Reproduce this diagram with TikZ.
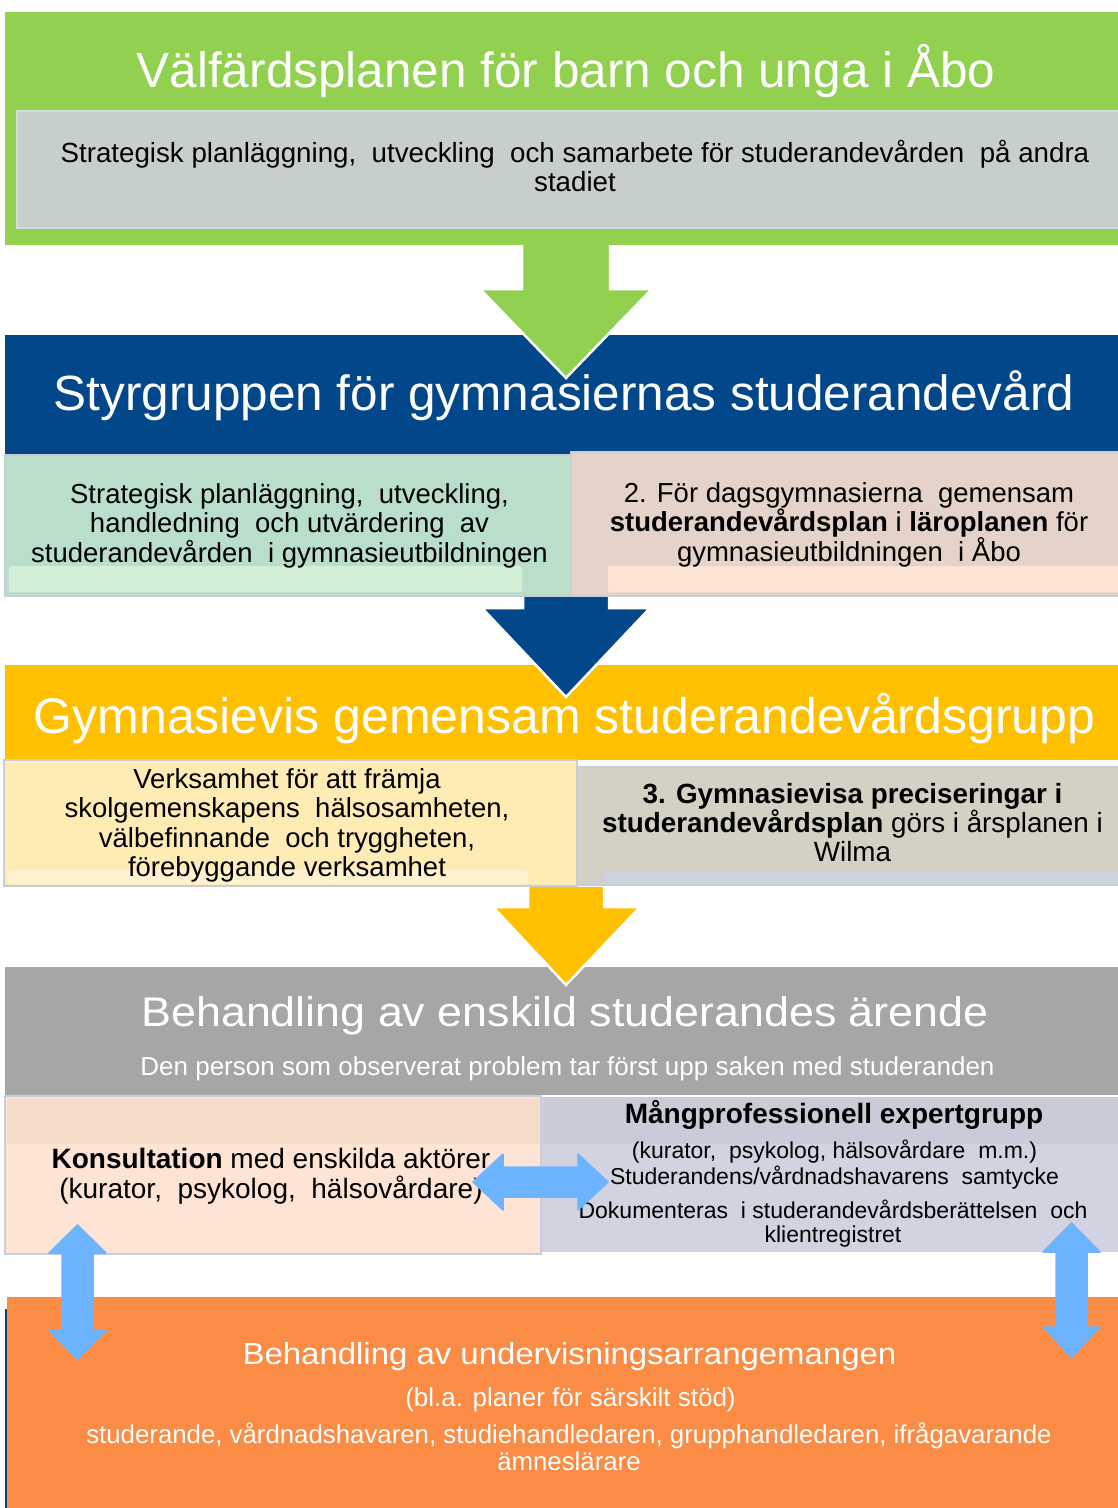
\documentclass[tikz,border=0pt]{standalone}
\usepackage{fontspec}
\setmainfont{Liberation Sans}
\definecolor{cgreen}{HTML}{92D050}
\definecolor{cinner}{HTML}{C6CFCB}
\definecolor{cinnerb}{HTML}{D3DAD7}
\definecolor{cblue}{HTML}{02478A}
\definecolor{cmint}{HTML}{B9DEC9}
\definecolor{cmintl}{HTML}{D4EFD7}
\definecolor{cbord}{HTML}{C9CDDA}
\definecolor{cpink}{HTML}{E5D2C8}
\definecolor{cpinkl}{HTML}{FDE3D3}
\definecolor{cyellow}{HTML}{FFC000}
\definecolor{cyl}{HTML}{FFECB4}
\definecolor{cylstrip}{HTML}{FFF3CF}
\definecolor{cbeige}{HTML}{D3D0C4}
\definecolor{cstriptwo}{HTML}{CED1DF}
\definecolor{cgray}{HTML}{A6A6A6}
\definecolor{cpeach}{HTML}{FDE4D4}
\definecolor{cpeachd}{HTML}{F5DBCA}
\definecolor{cslate}{HTML}{D1D3E0}
\definecolor{cslated}{HTML}{C9CBD8}
\definecolor{corange}{HTML}{FB8C46}
\definecolor{clblue}{HTML}{6CB4FF}
\newcommand\fz[2]{\fontsize{#1}{#2}\selectfont}
\newcommand\mlines[2]{\vtop{\baselineskip=#1\lineskiplimit=-100pt\lineskip=0pt\halign{\hfil##\hfil\cr#2\crcr}}}
\newcommand\dsp{\ \ }
\begin{document}
\begin{tikzpicture}[x=1pt,y=-1pt,
  txt/.style={inner sep=0pt, anchor=base, text=black},
  wtxt/.style={txt, text=white},
  subbox/.style={draw=cbord, line width=2.5pt},
  blockarrow/.style={draw=white, line width=2.5pt, line join=miter},
  dblarrow/.style={fill=clblue, draw=clblue, line width=1.5pt, line join=round}]
\useasboundingbox (0,0) rectangle (1118,1508);

% ---- level 1 (green)
\fill[cgreen] (5,12) rectangle (1118,245);
\filldraw[fill=cinner, draw=cinnerb, line width=1.5pt] (17,111) rectangle (1122,228);

% ---- level 2 (blue)
\fill[cblue] (5,335) rectangle (1118,455);
\filldraw[subbox, fill=cmint] (5,455) rectangle (571,596);
\fill[cmintl, rounded corners=2pt] (9,566) rectangle (522,592);
\filldraw[subbox, fill=cpink] (571,452) rectangle (1122,596);
\fill[cpinkl, rounded corners=2pt] (608,566) rectangle (1122,592);

% green arrow
\filldraw[blockarrow, fill=cgreen] (522,245) -- (522,289) -- (480,289) -- (566,378) -- (652,289) -- (610,289) -- (610,245);

% ---- level 3 (yellow)
\fill[cyellow] (5,665) rectangle (1118,760);
\filldraw[subbox, fill=cyl] (4,760) rectangle (577,886);
\fill[cylstrip, rounded corners=2pt] (8,870) rectangle (528,884);
\filldraw[subbox, fill=cbeige] (577,767) rectangle (1122,885);
\fill[cstriptwo, rounded corners=2pt] (604,871) rectangle (1122,884);

% blue arrow
\filldraw[blockarrow, fill=cblue] (523,597) -- (523,608) -- (482,608) -- (566,697) -- (650,608) -- (609,608) -- (609,597);

% ---- level 4 (gray)
\fill[cgray] (5,967) rectangle (1118,1095);
\filldraw[subbox, fill=cpeach] (5,1096) rectangle (541,1254);
\fill[cpeachd] (7,1098) rectangle (539,1144);
\fill[cslate] (542,1097) rectangle (1118,1252);
\fill[cslated] (543,1097) rectangle (1118,1144);

% yellow arrow
\filldraw[blockarrow, fill=cyellow] (528,887) -- (528,907) -- (493,907) -- (566,985) -- (640,907) -- (604,907) -- (604,887);

% ---- level 5 (orange)
\fill[corange] (7,1297) rectangle (1118,1508);
\draw[cblue, line width=2pt] (5.5,1309) -- (5.5,1508);

% ---- texts
\node[wtxt, font=\fz{49.5}{55}] (t1) at (566,87) {Välfärdsplanen för barn och unga i Åbo};
\node[txt, font=\fz{27.7}{29}] (t1a) at (575,162.7) {\mlines{29pt}{Strategisk planläggning,\dsp utveckling\dsp och samarbete för studerandevården\dsp på andra\cr stadiet}};

\node[wtxt, font=\fz{49.5}{55}] (t2) at (564,410) {Styrgruppen för gymnasiernas studerandevård};
\node[txt, font=\fz{27.5}{29.5}] (t2a) at (289.5,503) {\mlines{29.5pt}{Strategisk planläggning,\dsp utveckling,\cr handledning\dsp och utvärdering\dsp av\cr studerandevården\dsp i gymnasieutbildningen}};
\node[txt, font=\fz{27.5}{29.5}] (t2b) at (849,502) {\mlines{29.5pt}{2. För dagsgymnasierna\dsp gemensam\cr \textbf{studerandevårdsplan} i \textbf{läroplanen} för\cr gymnasieutbildningen\dsp i Åbo}};

\node[wtxt, font=\fz{50}{55}] (t3) at (564.5,733) {Gymnasievis gemensam studerandevårdsgrupp};
\node[txt, font=\fz{27.5}{29.5}] (t3a) at (287,788) {\mlines{29.6pt}{Verksamhet för att främja\cr skolgemenskapens\dsp hälsosamheten,\cr välbefinnande\dsp och tryggheten,\cr förebyggande verksamhet}};
\node[txt, font=\fz{27.8}{29}] (t3b) at (852.5,803) {\mlines{29pt}{\textbf{3. Gymnasievisa preciseringar i}\cr \textbf{studerandevårdsplan} görs i årsplanen i\cr Wilma}};

\node[wtxt, font=\fz{41.5}{46}] (t4) at (565,1026) {\scalebox{1.08}[1]{Behandling av enskild studerandes ärende}};
\node[wtxt, font=\fz{26}{29}] (t4s) at (567.5,1075) {Den person som observerat problem tar först upp saken med studeranden};
\node[txt, font=\fz{28}{30}] (t4a) at (271,1168) {\mlines{30pt}{\textbf{Konsultation} med enskilda aktörer\cr (kurator,\dsp psykolog,\dsp hälsovårdare)}};
\node[txt, font=\fz{28}{30}\bfseries] (t4b) at (834,1123) {Mångprofessionell expertgrupp};
\node[txt, font=\fz{23}{26}] (t4c) at (834.5,1158) {\mlines{26pt}{(kurator,\dsp psykolog, hälsovårdare\dsp m.m.)\cr Studerandens/vårdnadshavarens\dsp samtycke}};
\node[txt, font=\fz{23}{24}] (t4d) at (833,1218) {\mlines{24pt}{Dokumenteras\dsp i studerandevårdsberättelsen\dsp och\cr klientregistret}};

\node[wtxt, font=\fz{30.5}{34}] (t5) at (569.5,1364) {\scalebox{1.08}[1]{Behandling av undervisningsarrangemangen}};
\node[wtxt, font=\fz{26}{29}] (t5a) at (570.5,1406) {(bl.a. planer för särskilt stöd)};
\node[wtxt, font=\fz{25.8}{27}] (t5b) at (569,1443) {\mlines{27pt}{studerande, vårdnadshavaren, studiehandledaren, grupphandledaren, ifrågavarande\cr ämneslärare}};

% ---- light blue double arrows
\filldraw[dblarrow] (473,1182) -- (503,1154) -- (503,1167) -- (578,1167) -- (578,1154) -- (608,1182) -- (578,1210) -- (578,1197) -- (503,1197) -- (503,1210) -- cycle;
\filldraw[dblarrow] (77.5,1225) -- (106,1253) -- (93,1253) -- (93,1330) -- (106,1330) -- (77.5,1359) -- (49,1330) -- (62,1330) -- (62,1253) -- (49,1253) -- cycle;
\filldraw[dblarrow] (1071.5,1223) -- (1100,1252) -- (1087,1252) -- (1087,1327) -- (1100,1327) -- (1071.5,1357) -- (1043,1327) -- (1056,1327) -- (1056,1252) -- (1043,1252) -- cycle;
\end{tikzpicture}
\end{document}
